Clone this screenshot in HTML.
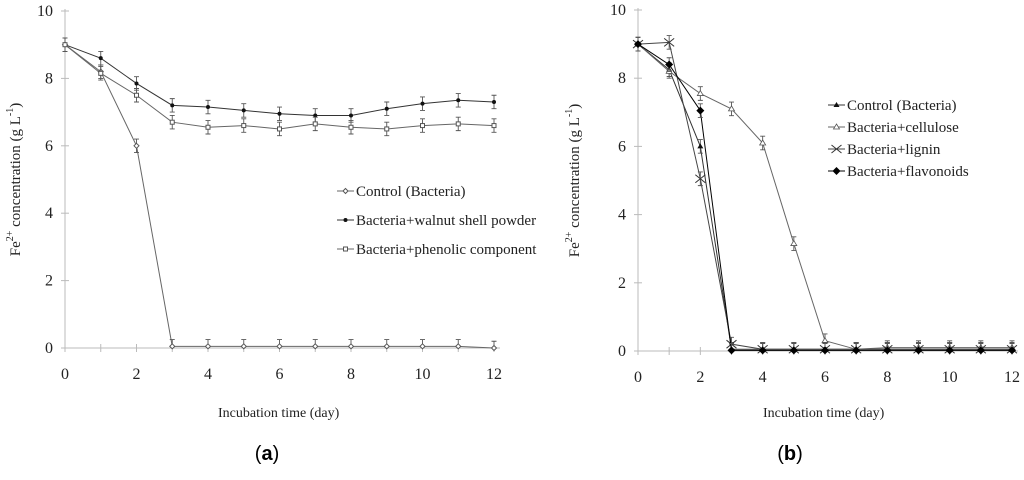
<!DOCTYPE html>
<html><head><meta charset="utf-8">
<style>
html,body{margin:0;padding:0;background:#fff;}
svg{font-family:"Liberation Serif","DejaVu Serif",serif;}
</style></head>
<body>
<svg id="c" width="1024" height="475" viewBox="0 0 1024 475" xmlns="http://www.w3.org/2000/svg" font-family="Liberation Serif, serif"></svg>
<script>
const days = [0,1,2,3,4,5,6,7,8,9,10,11,12];
const yTicks = [0,2,4,6,8,10];
const xTickLabels = [0,2,4,6,8,10,12];
// panel a
const aControl = [9,8.2,6.0,0.05,0.05,0.05,0.05,0.05,0.05,0.05,0.05,0.05,0.0];
const aWalnut = [9,8.6,7.85,7.2,7.15,7.05,6.95,6.9,6.9,7.1,7.25,7.35,7.3];
const aPhenolic = [9,8.15,7.5,6.7,6.55,6.6,6.5,6.65,6.55,6.5,6.6,6.65,6.6];
// panel b
const bControl = [9,8.25,6.0,0.05,0.05,0.05,0.05,0.05,0.05,0.05,0.05,0.05,0.05];
const bCellulose = [9,8.2,7.55,7.1,6.1,3.15,0.3,0.05,0.1,0.1,0.1,0.1,0.1];
const bLignin = [9,9.05,5.05,0.2,0.05,0.05,0.05,0.05,0.05,0.05,0.05,0.05,0.05];
const bFlavonoids = [9,8.4,7.05,0.02,0.02,0.02,0.02,0.02,0.02,0.02,0.02,0.02,0.02];
const errA = 0.2;

const SERIF = '"Liberation Serif", serif';
const NS = "http://www.w3.org/2000/svg";
const svg = document.getElementById('c');
function mk(tag, attrs, parent){
  const e = document.createElementNS(NS, tag);
  for (const k in attrs) e.setAttribute(k, attrs[k]);
  if (tag==='text' && !attrs['style']) e.setAttribute('style', 'font-family:'+SERIF);
  (parent||svg).appendChild(e);
  return e;
}
function marker(g, type, x, y){
  let m;
  if (type==='diamondOpen') m = mk('path',{d:`M${x} ${y-2.5}L${x+2.5} ${y}L${x} ${y+2.5}L${x-2.5} ${y}Z`,fill:'#fff',stroke:'#555','stroke-width':1},g);
  else if (type==='dot') m = mk('circle',{cx:x,cy:y,r:2,fill:'#111'},g);
  else if (type==='square') m = mk('rect',{x:x-2,y:y-2,width:4,height:4,fill:'#fff',stroke:'#555','stroke-width':1},g);
  else if (type==='triFill') m = mk('path',{d:`M${x} ${y-3}L${x+3} ${y+2}L${x-3} ${y+2}Z`,fill:'#111'},g);
  else if (type==='triOpen') m = mk('path',{d:`M${x} ${y-3}L${x+3} ${y+2}L${x-3} ${y+2}Z`,fill:'#fff',stroke:'#555','stroke-width':0.8},g);
  else if (type==='cross') m = mk('path',{d:`M${x-5} ${y-4}L${x+5} ${y+4}M${x-5} ${y+4}L${x+5} ${y-4}`,stroke:'#333','stroke-width':1,fill:'none'},g);
  else if (type==='diamondFill') m = mk('path',{d:`M${x} ${y-4}L${x+4} ${y}L${x} ${y+4}L${x-4} ${y}Z`,fill:'#000'},g);
  
  
}
function panel(opt){
  const {x0,x1,y0,y1,name} = opt;
  const X = d => x0 + (x1-x0)*d/12;
  const Y = v => y0 - (y0-y1)*v/10;
  const g = mk('g',{});
  
  
  const ax = mk('g',{},g);
  
  
  mk('line',{x1:x0,y1:y0,x2:x1+6,y2:y0,stroke:'#bbb','stroke-width':1},ax);
  mk('line',{x1:x0,y1:y0,x2:x0,y2:Y(10)-2,stroke:'#bbb','stroke-width':1},ax);
  days.forEach(d=>{ mk('line',{x1:X(d),y1:y0-4,x2:X(d),y2:y0+4,stroke:'#bbb','stroke-width':1},ax); });
  yTicks.forEach(t=>{
    mk('line',{x1:x0-4,y1:Y(t),x2:x0+4,y2:Y(t),stroke:'#bbb','stroke-width':1},ax);
    const tl = mk('text',{x:x0-12,y:Y(t)+5,'font-size':16,'text-anchor':'end',fill:'#222'},ax);
    tl.textContent = t;
    
    
  });
  xTickLabels.forEach(t=>{
    const tl = mk('text',{x:X(t),y:y0+31,'font-size':16,'text-anchor':'middle',fill:'#222'},ax);
    tl.textContent = t;
    
    
  });
  const yt = mk('text',{transform:`translate(${opt.ytx},${(y0+y1)/2}) rotate(-90)`,'font-size':15,'text-anchor':'middle',fill:'#222'},g);
  yt.innerHTML = 'Fe<tspan dy="-7" font-size="10">2+</tspan><tspan dy="7"> concentration (g L</tspan><tspan dy="-7" font-size="10">-1</tspan><tspan dy="7">)</tspan>';
  
  
  const xt = mk('text',{x:opt.xtx,y:417,'font-size':14,fill:'#222'},g);
  xt.textContent = 'Incubation time (day)';
  
  
  const pl = mk('text',{x:opt.plx,y:460,'font-size':20,'text-anchor':'middle',fill:'#000',style:'font-family:"Liberation Sans", sans-serif'},g);
  pl.innerHTML = '(<tspan font-weight="bold">'+opt.plabel+'</tspan>)';
  
  
  opt.series.forEach(s=>{
    const sg = mk('g',{},g);
    
    
    const pts = days.map((d,i)=>X(d)+','+Y(s.vals[i])).join(' ');
    mk('polyline',{points:pts,fill:'none',stroke:s.color,'stroke-width':1},sg);
    days.forEach((d,i)=>{
      const x=X(d), yt1=Y(s.vals[i]+errA), yb=Y(s.vals[i]<0.3?s.vals[i]:s.vals[i]-errA);
      const e = mk('path',{d:`M${x} ${yt1}V${yb}M${x-2.5} ${yt1}H${x+2.5}M${x-2.5} ${yb}H${x+2.5}`,stroke:'#555','stroke-width':0.9,fill:'none'},sg);
      
      
      marker(sg, s.marker, x, Y(s.vals[i]));
    });
  });
  const lg = mk('g',{},g);
  
  
  opt.series.forEach((s,i)=>{
    const ly = opt.ly + i*opt.lstep;
    const eg = mk('g',{},lg);
    
    
    mk('line',{x1:opt.lx,y1:ly,x2:opt.lx+17,y2:ly,stroke:s.color,'stroke-width':1},eg);
    marker(eg, s.marker, opt.lx+8.5, ly);
    const t = mk('text',{x:opt.lx+19,y:ly+5,'font-size':opt.lfs,fill:'#222'},eg);
    t.textContent = s.label;
  });
}
panel({name:'chart-a',x0:65,x1:494,y0:348,y1:11,ytx:20,xtx:218,plx:267,plabel:'a',lx:337,ly:191,lstep:29,lfs:15,
  series:[
    {name:'series-control',label:'Control (Bacteria)',vals:aControl,marker:'diamondOpen',color:'#666'},
    {name:'series-walnut',label:'Bacteria+walnut shell powder',vals:aWalnut,marker:'dot',color:'#333'},
    {name:'series-phenolic',label:'Bacteria+phenolic component',vals:aPhenolic,marker:'square',color:'#666'}
  ]});
panel({name:'chart-b',x0:638,x1:1012,y0:351,y1:10,ytx:579,xtx:763,plx:790,plabel:'b',lx:828,ly:105,lstep:22,lfs:15,
  series:[
    {name:'series-control-b',label:'Control (Bacteria)',vals:bControl,marker:'triFill',color:'#333'},
    {name:'series-cellulose',label:'Bacteria+cellulose',vals:bCellulose,marker:'triOpen',color:'#666'},
    {name:'series-lignin',label:'Bacteria+lignin',vals:bLignin,marker:'cross',color:'#444'},
    {name:'series-flavonoids',label:'Bacteria+flavonoids',vals:bFlavonoids,marker:'diamondFill',color:'#000'}
  ]});
</script>
</body></html>
